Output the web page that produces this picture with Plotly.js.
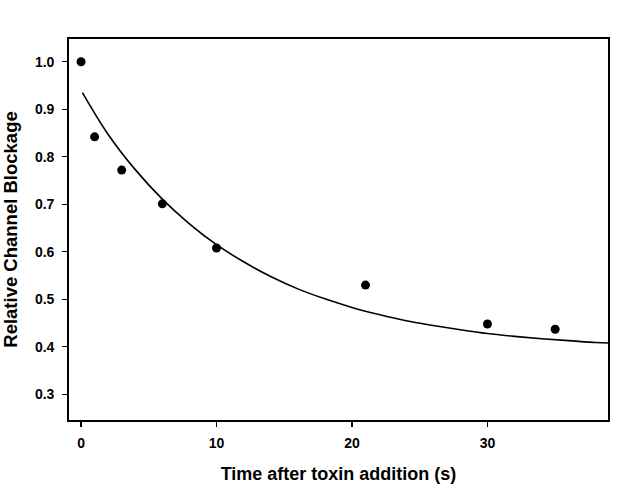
<!DOCTYPE html>
<html>
<head>
<meta charset="utf-8">
<script src="https://cdn.plot.ly/plotly-3.0.1.min.js"></script>
<style>html,body{margin:0;padding:0;background:#fff;}#chart{width:628px;height:491px;}</style>
</head>
<body>
<div id="chart"></div>
<script>
// Measured data points
const timeData = [0, 1, 3, 6, 10, 21, 30, 35];
const blockData = [1.0, 0.842, 0.772, 0.701, 0.608, 0.530, 0.448, 0.437];

// Fitted curve
const timeCurve = [0.1, 2, 4, 6, 8, 10, 12, 14, 16, 18, 20, 22, 24, 26, 28, 30, 32, 34, 36, 38, 38.9];
const blockCurve = [0.935, 0.847, 0.773, 0.711, 0.659, 0.615, 0.579, 0.548, 0.522, 0.501, 0.483, 0.468, 0.455, 0.445, 0.436, 0.428, 0.422, 0.417, 0.413, 0.409, 0.408];

const xTicks = [0, 10, 20, 30];
const yTicks = [0.3, 0.4, 0.5, 0.6, 0.7, 0.8, 0.9, 1.0];

const fontFam = '"Liberation Sans", Arial, sans-serif';

const traces = [
  {x: timeCurve, y: blockCurve, mode: 'lines', type: 'scatter',
   line: {color: '#000', width: 1.6, shape: 'spline'}, hoverinfo: 'skip'},
  {x: timeData, y: blockData, mode: 'markers', type: 'scatter',
   marker: {color: '#000', size: 9}}
];

const layout = {
  width: 628, height: 491,
  margin: {l: 69, r: 20, t: 39, b: 71},
  paper_bgcolor: '#fff', plot_bgcolor: '#fff',
  showlegend: false,
  font: {family: fontFam, color: '#000', size: 14, weight: 700},
  xaxis: {
    range: [-0.89, 38.9], tickvals: xTicks, ticktext: xTicks.map(String),
    ticks: 'outside', ticklen: 5, tickwidth: 1.2, tickcolor: '#000',
    ticklabelstandoff: 4,
    showline: true, linecolor: '#000', linewidth: 1.8, mirror: true,
    showgrid: false, zeroline: false,
    tickfont: {family: fontFam, size: 14, weight: 700},
    title: {text: 'Time after toxin addition (s)', font: {family: fontFam, size: 18, weight: 700}, standoff: 18}
  },
  yaxis: {
    range: [0.246, 1.048], tickvals: yTicks, ticktext: yTicks.map(v => v.toFixed(1)),
    ticks: 'outside', ticklen: 5, tickwidth: 1.2, tickcolor: '#000',
    ticklabelstandoff: 5,
    showline: true, linecolor: '#000', linewidth: 1.8, mirror: true,
    showgrid: false, zeroline: false,
    tickfont: {family: fontFam, size: 14, weight: 700},
    title: {text: 'Relative Channel Blockage', font: {family: fontFam, size: 18.5, weight: 700}, standoff: 15}
  }
};

Plotly.newPlot('chart', traces, layout, {staticPlot: true, displayModeBar: false});
</script>
</body>
</html>
